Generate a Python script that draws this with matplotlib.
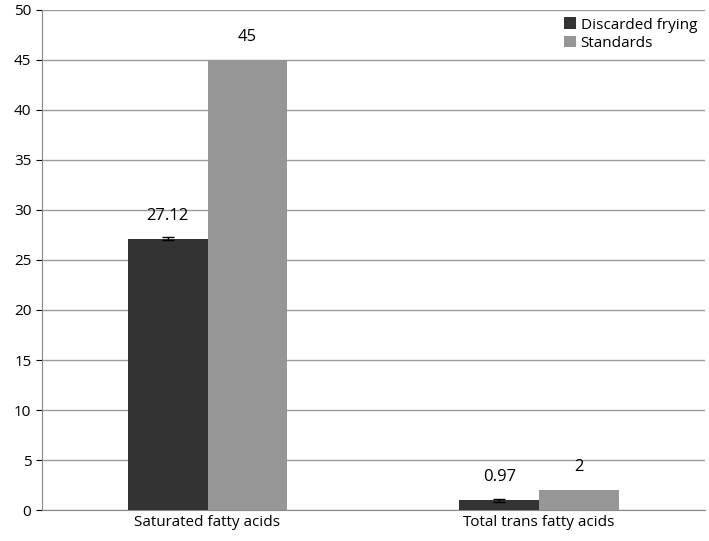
import matplotlib
matplotlib.use("Agg")
import matplotlib.pyplot as plt
import numpy as np

categories = ["Saturated fatty acids", "Total trans fatty acids"]
discarded = [27.12, 0.97]
discarded_err = [0.15, 0.12]
standards = [45, 2]
labels_d = ["27.12", "0.97"]
labels_s = ["45", "2"]

plt.rcParams["font.family"] = "Open Sans"
fig = plt.figure(figsize=(7.09, 5.41), dpi=100)
ax = fig.add_axes([0.059, 0.057, 0.935, 0.925])
x = np.arange(len(categories))
w = 0.24
b1 = ax.bar(x - w/2, discarded, w, color="#333333", yerr=discarded_err,
            error_kw=dict(ecolor="black", capsize=4, lw=1), label="Discarded frying", zorder=3)
b2 = ax.bar(x + w/2, standards, w, color="#969696", label="Standards", zorder=3)
for xi, v, t in zip(x - w/2, discarded, labels_d):
    ax.text(xi, v + 1.5, t, ha="center", va="bottom", fontsize=12)
for xi, v, t in zip(x + w/2, standards, labels_s):
    ax.text(xi, v + 1.5, t, ha="center", va="bottom", fontsize=12)
ax.set_xlim(-0.5, 1.5)
ax.set_ylim(0, 50)
ax.set_yticks(range(0, 51, 5))
ax.set_xticks(x)
ax.set_xticklabels(categories, fontsize=11)
ax.tick_params(axis="y", labelsize=11, length=4)
ax.tick_params(axis="x", length=0)
ax.yaxis.grid(True, color="#9a9a9a", lw=1, zorder=0)
for s in ["top", "right"]:
    ax.spines[s].set_visible(False)
ax.spines["left"].set_color("#888888")
ax.spines["bottom"].set_color("#888888")
ax.legend(loc="upper right", frameon=False, fontsize=11, handlelength=0.8,
          handleheight=0.8, handletextpad=0.3, borderaxespad=0.1, labelspacing=0.2)
fig.savefig("out.png", dpi=100)
